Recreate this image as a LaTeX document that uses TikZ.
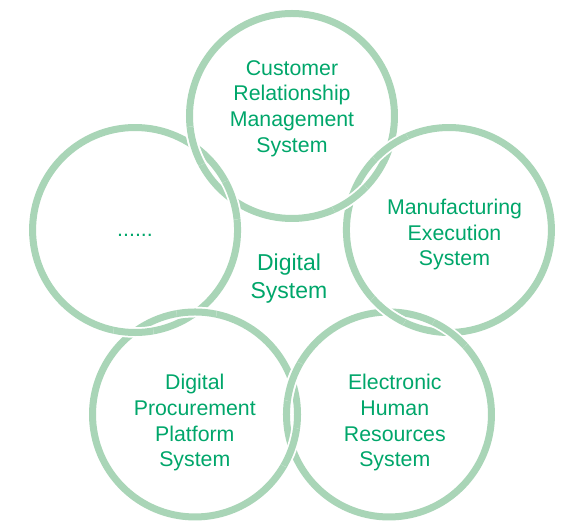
\documentclass[tikz,border=0pt]{standalone}
\usepackage{fontspec}
\setmainfont{Liberation Sans}
\definecolor{ringgreen}{RGB}{169,213,183}
\definecolor{textgreen}{RGB}{0,166,106}
\tikzset{%
  ring/.style     = {draw=ringgreen, line width=7pt},%
  ringgap/.style  = {draw=white, line width=10.5pt},%
  sysname/.style  = {align=center, text=textgreen,%
                     font=\fontsize{21.3}{25.7}\selectfont},%
  hub/.style      = {sysname, font=\fontsize{23}{28}\selectfont}%
}
\newcommand\ringrad{102.5pt}
\newcommand\overring[2]{%
	\begin{scope}
		\clip (#1) circle (20pt);
		\path[ringgap] (#2) circle (\ringrad);
		\path[ring] (#2) circle (\ringrad);
	\end{scope}}

\begin{document}
\begin{tikzpicture}[x=1pt,y=1pt]
		\useasboundingbox (-292,-240) rectangle (274,281);
		\coordinate (crm) at (90:165pt);
		\coordinate (mes) at (18:165pt);
		\coordinate (ehr) at (-54:165pt);
		\coordinate (dpp) at (-126:165pt);
		\coordinate (etc) at (162:165pt);
		\coordinate (o-crm-mes) at (54:166.7pt);
		\coordinate (i-crm-mes) at (54:100.3pt);
		\coordinate (o-mes-ehr) at (-18:166.7pt);
		\coordinate (i-mes-ehr) at (-18:100.3pt);
		\coordinate (o-ehr-dpp) at (-90:166.7pt);
		\coordinate (i-ehr-dpp) at (-90:100.3pt);
		\coordinate (o-dpp-etc) at (-162:166.7pt);
		\coordinate (i-dpp-etc) at (-162:100.3pt);
		\coordinate (o-etc-crm) at (126:166.7pt);
		\coordinate (i-etc-crm) at (126:100.3pt);
		\path[ringgap] (etc) circle (\ringrad);
		\path[ring] (etc) circle (\ringrad);
		\path[ringgap] (dpp) circle (\ringrad);
		\path[ring] (dpp) circle (\ringrad);
		\path[ringgap] (ehr) circle (\ringrad);
		\path[ring] (ehr) circle (\ringrad);
		\path[ringgap] (mes) circle (\ringrad);
		\path[ring] (mes) circle (\ringrad);
		\path[ringgap] (crm) circle (\ringrad);
		\path[ring] (crm) circle (\ringrad);
		\overring{o-crm-mes}{mes}
		\overring{i-crm-mes}{crm}
		\overring{o-mes-ehr}{ehr}
		\overring{i-mes-ehr}{mes}
		\overring{o-ehr-dpp}{dpp}
		\overring{i-ehr-dpp}{ehr}
		\overring{o-dpp-etc}{etc}
		\overring{i-dpp-etc}{dpp}
		\overring{o-etc-crm}{crm}
		\overring{i-etc-crm}{etc}
		\node[sysname] (crm text) at (0,172.5) {Customer\\Relationship\\Management\\System};
		\node[sysname] (mes text) at (162.5,46.5) {Manufacturing\\Execution\\System};
		\node[sysname] (ehr text) at (102.8,-141.8) {Electronic\\Human\\Resources\\System};
		\node[sysname] (dpp text) at (-97.2,-141.8) {Digital\\Procurement\\Platform\\System};
		\node[sysname] (etc text) at (-157,45.5) {......};
		\node[hub] (hub text) at (-3,2) {Digital\\System};
	\end{tikzpicture}
\end{document}
